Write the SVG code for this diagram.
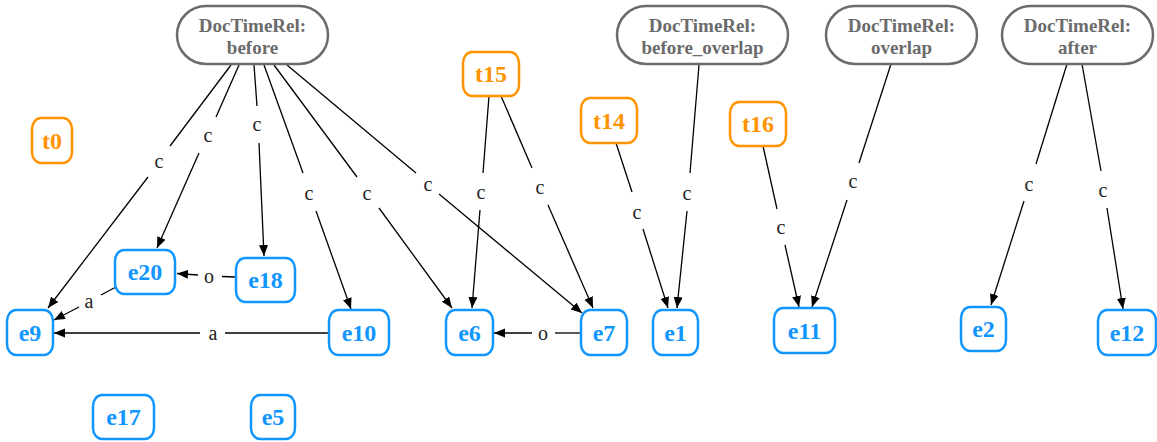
<svg xmlns="http://www.w3.org/2000/svg" width="1157" height="442" viewBox="0 0 1157 442">
  <style>
    .doc rect { fill: #fff; stroke: #6b6b6b; stroke-width: 2.5; }
    .doc text { fill: #6b6b6b; font: bold 19px "Liberation Serif", "DejaVu Serif", serif; text-anchor: middle; }
    .tim rect { fill: #fff; stroke: #ff9300; stroke-width: 2.5; }
    .tim text { fill: #ff9300; font: bold 24px "Liberation Serif", "DejaVu Serif", serif; text-anchor: middle; }
    .evt rect { fill: #fff; stroke: #1196ff; stroke-width: 2.5; }
    .evt text { fill: #1196ff; font: bold 24px "Liberation Serif", "DejaVu Serif", serif; text-anchor: middle; }
    .edges line { stroke: #000; stroke-width: 1.3; fill: none; }
    .edges line.head { marker-end: url(#arrow); }
    .edges text { fill: #222; font: 20px "Liberation Serif", "DejaVu Serif", serif; text-anchor: middle; }
  </style>
  <defs>
    <marker id="arrow" markerUnits="userSpaceOnUse" markerWidth="12" markerHeight="10" refX="11" refY="4.5" orient="auto">
      <path d="M0,0 L11,4.5 L0,9 z" fill="#000"/>
    </marker>
  </defs>
  <rect width="1157" height="442" fill="#fff"/>

  <!-- connectors: each split around its label -->
  <g class="edges">
    <g id="edge-before-e9"><line x1="231" y1="65" x2="170" y2="146"/><line class="head" x1="148" y1="177" x2="48" y2="308"/><text x="159" y="168">c</text></g>
    <g id="edge-before-e20"><line x1="239" y1="65" x2="216" y2="117"/><line class="head" x1="199" y1="153" x2="157" y2="248"/><text x="208" y="142">c</text></g>
    <g id="edge-before-e18"><line x1="254" y1="65" x2="257" y2="106"/><line class="head" x1="259" y1="143" x2="264" y2="256"/><text x="257" y="131">c</text></g>
    <g id="edge-before-e10"><line x1="264" y1="65" x2="303" y2="173"/><line class="head" x1="316" y1="211" x2="351" y2="309"/><text x="309" y="200">c</text></g>
    <g id="edge-before-e6"><line x1="274" y1="65" x2="357" y2="177"/><line class="head" x1="379" y1="208" x2="452" y2="308"/><text x="367" y="200">c</text></g>
    <g id="edge-before-e7"><line x1="287" y1="65" x2="416" y2="173"/><line class="head" x1="439" y1="194" x2="582" y2="313"/><text x="428" y="191">c</text></g>
    <g id="edge-t15-e6"><line x1="489" y1="96" x2="483" y2="173"/><line class="head" x1="480" y1="210" x2="472" y2="308"/><text x="481" y="199">c</text></g>
    <g id="edge-t15-e7"><line x1="501" y1="96" x2="532" y2="168"/><line class="head" x1="548" y1="205" x2="593" y2="308"/><text x="540" y="194">c</text></g>
    <g id="edge-t14-e1"><line x1="616" y1="143" x2="632" y2="192"/><line class="head" x1="643" y1="229" x2="668" y2="308"/><text x="637" y="219">c</text></g>
    <g id="edge-beforeoverlap-e1"><line x1="699" y1="65" x2="690" y2="173"/><line class="head" x1="687" y1="211" x2="677" y2="308"/><text x="687" y="200">c</text></g>
    <g id="edge-t16-e11"><line x1="763" y1="146" x2="777" y2="209"/><line class="head" x1="785" y1="245" x2="799" y2="307"/><text x="781" y="234">c</text></g>
    <g id="edge-overlap-e11"><line x1="891" y1="64" x2="859" y2="163"/><line class="head" x1="847" y1="200" x2="812" y2="307"/><text x="853" y="188">c</text></g>
    <g id="edge-after-e2"><line x1="1067" y1="64" x2="1036" y2="164"/><line class="head" x1="1024" y1="201" x2="991" y2="305"/><text x="1029" y="191">c</text></g>
    <g id="edge-after-e12"><line x1="1082" y1="64" x2="1101" y2="171"/><line class="head" x1="1107" y1="208" x2="1123" y2="309"/><text x="1103" y="197">c</text></g>
    <g id="edge-e18-e20"><line x1="236" y1="277" x2="222" y2="276.5"/><line class="head" x1="198" y1="275" x2="177" y2="273.5"/><text x="209" y="283">o</text></g>
    <g id="edge-e20-e9"><line x1="116" y1="287" x2="101" y2="295"/><line class="head" x1="79" y1="307" x2="54" y2="320"/><text x="89" y="308">a</text></g>
    <g id="edge-e10-e9"><line x1="329" y1="333" x2="225" y2="333"/><line class="head" x1="200" y1="333" x2="54" y2="333"/><text x="213" y="340">a</text></g>
    <g id="edge-e7-e6"><line x1="581" y1="333" x2="555" y2="333"/><line class="head" x1="532" y1="333" x2="494" y2="333"/><text x="543" y="340">o</text></g>
  </g>

  <!-- DocTimeRel nodes -->
  <g id="dtr-before" class="doc"><rect x="177" y="6" width="151" height="58" rx="29"/><text x="252.5" y="32">DocTimeRel:</text><text x="252.5" y="54">before</text></g>
  <g id="dtr-before-overlap" class="doc"><rect x="617" y="6" width="171" height="58" rx="29"/><text x="702.5" y="32">DocTimeRel:</text><text x="702.5" y="54">before_overlap</text></g>
  <g id="dtr-overlap" class="doc"><rect x="826" y="6" width="151" height="58" rx="29"/><text x="901.5" y="32">DocTimeRel:</text><text x="901.5" y="54">overlap</text></g>
  <g id="dtr-after" class="doc"><rect x="1002" y="6" width="151" height="58" rx="29"/><text x="1077.5" y="32">DocTimeRel:</text><text x="1077.5" y="54">after</text></g>

  <!-- time expressions -->
  <g id="t0" class="tim"><rect x="32" y="118" width="40" height="45" rx="9" ry="11"/><text x="52" y="148.5">t0</text></g>
  <g id="t15" class="tim"><rect x="463" y="52" width="56" height="44" rx="9" ry="11"/><text x="491" y="82">t15</text></g>
  <g id="t14" class="tim"><rect x="581" y="98" width="56" height="45" rx="9" ry="11"/><text x="609" y="128.5">t14</text></g>
  <g id="t16" class="tim"><rect x="730" y="102" width="56" height="44" rx="9" ry="11"/><text x="758" y="132">t16</text></g>

  <!-- events -->
  <g id="e20" class="evt"><rect x="115" y="250" width="60" height="44" rx="9" ry="11"/><text x="145" y="280">e20</text></g>
  <g id="e18" class="evt"><rect x="236" y="258" width="59" height="44" rx="9" ry="11"/><text x="265.5" y="288">e18</text></g>
  <g id="e9" class="evt"><rect x="7" y="310" width="46" height="45" rx="9" ry="11"/><text x="30" y="340.5">e9</text></g>
  <g id="e10" class="evt"><rect x="329" y="310" width="60" height="45" rx="9" ry="11"/><text x="359" y="340.5">e10</text></g>
  <g id="e17" class="evt"><rect x="93" y="395" width="61" height="44" rx="9" ry="11"/><text x="123.5" y="425">e17</text></g>
  <g id="e5" class="evt"><rect x="251" y="395" width="44" height="44" rx="9" ry="11"/><text x="273" y="425">e5</text></g>
  <g id="e6" class="evt"><rect x="446" y="310" width="47" height="45" rx="9" ry="11"/><text x="469.5" y="340.5">e6</text></g>
  <g id="e7" class="evt"><rect x="581" y="310" width="46" height="45" rx="9" ry="11"/><text x="604" y="340.5">e7</text></g>
  <g id="e1" class="evt"><rect x="653" y="310" width="45" height="45" rx="9" ry="11"/><text x="675.5" y="340.5">e1</text></g>
  <g id="e11" class="evt"><rect x="774" y="308" width="61" height="45" rx="9" ry="11"/><text x="804.5" y="338.5">e11</text></g>
  <g id="e2" class="evt"><rect x="961" y="307" width="45" height="44" rx="9" ry="11"/><text x="983.5" y="337">e2</text></g>
  <g id="e12" class="evt"><rect x="1098" y="310" width="58" height="45" rx="9" ry="11"/><text x="1127" y="340.5">e12</text></g>
</svg>
